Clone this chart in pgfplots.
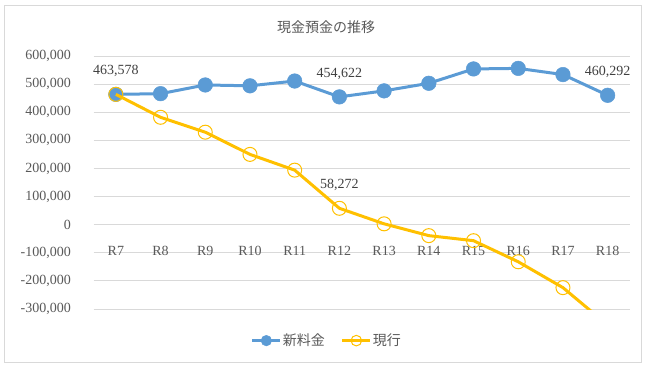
\documentclass[border=0pt]{standalone}
\usepackage{fontspec}
\setmainfont{Liberation Serif}
\newfontfamily\jp{Noto Sans CJK JP}
\usepackage{pgfplots}
\pgfplotsset{compat=1.18}
\definecolor{blueS}{HTML}{5B9BD5}
\definecolor{goldS}{HTML}{FFC000}
\definecolor{txt}{HTML}{595959}
\definecolor{grd}{HTML}{D9D9D9}
\definecolor{lbl}{HTML}{404040}
\begin{document}
\begin{tikzpicture}[x=1pt,y=1pt]
\useasboundingbox (0,0) rectangle (651,365);
\draw[grd, line width=1pt] (4.5,2.5) rectangle (641.5,359.5);
\node[text=txt, font=\jp\fontsize{14}{16}\selectfont] at (326,337.7) {現金預金の推移};
\begin{axis}[
  at={(93.5pt,56pt)}, anchor=south west,
  scale only axis, width=536.5pt, height=253pt,
  xmin=-0.5, xmax=11.5, ymin=-300000, ymax=600000,
  xtick={0,1,2,3,4,5,6,7,8,9,10,11},
  xticklabels={R7,R8,R9,R10,R11,R12,R13,R14,R15,R16,R17,R18},
  ytick={-300000,-200000,-100000,0,100000,200000,300000,400000,500000,600000},
  ymajorgrids, grid style={grd, line width=1pt},
  axis line style={draw=none}, major tick length=0pt,
  scaled y ticks=false,
  tick label style={font=\fontsize{14}{16}\selectfont, text=txt},
  yticklabel style={anchor=east, inner sep=0pt, xshift=-22.5pt,
    /pgf/number format/.cd, fixed, precision=0, 1000 sep={,}, assume math mode=true},
  xticklabel style={anchor=center, inner sep=0pt, yshift=58.3pt},
  clip mode=individual,
  legend columns=2,
  legend style={at={(0.434,-0.125)}, anchor=center, draw=none, fill=none,
    font=\jp\fontsize{14}{16}\selectfont, text=txt,
    /tikz/every even column/.append style={column sep=15pt},
    nodes={inner sep=1pt}},
  legend image code/.code={\draw[#1, mark indices={2}, mark size=5.3pt] plot coordinates {(0pt,0pt) (14pt,0pt) (28pt,0pt)};},
]
\addplot[blueS, line width=3pt, mark=*, mark size=7.3pt,
  mark options={fill=blueS, draw=blueS, line width=0.5pt}]
coordinates {(0,463578) (1,466000) (2,497000) (3,494000) (4,511000) (5,454622)
  (6,476000) (7,503000) (8,554000) (9,556000) (10,534000) (11,460292)};
\addlegendentry{新料金}
\addplot[goldS, line width=3pt, mark=o, mark size=7pt,
  mark options={line width=1pt, fill=none}, mark indices={1,2,3,4,5,6,7,8,9,10,11}]
coordinates {(0,463578) (1,382000) (2,329000) (3,250000) (4,194000) (5,58272)
  (6,3000) (7,-39000) (8,-57000) (9,-132000) (10,-224000) (11,-357000)};
\addlegendentry{現行}
\addplot[draw=none, forget plot, nodes near coords, point meta=explicit symbolic,
  every node near coord/.append style={anchor=center, yshift=23pt, inner sep=0pt,
    font=\fontsize{14}{16}\selectfont, text=lbl}]
coordinates {(0,463578) [463,578] (5,454622) [454,622] (11,460292) [460,292] (5,58272) [58,272]};
\end{axis}
\end{tikzpicture}
\end{document}
